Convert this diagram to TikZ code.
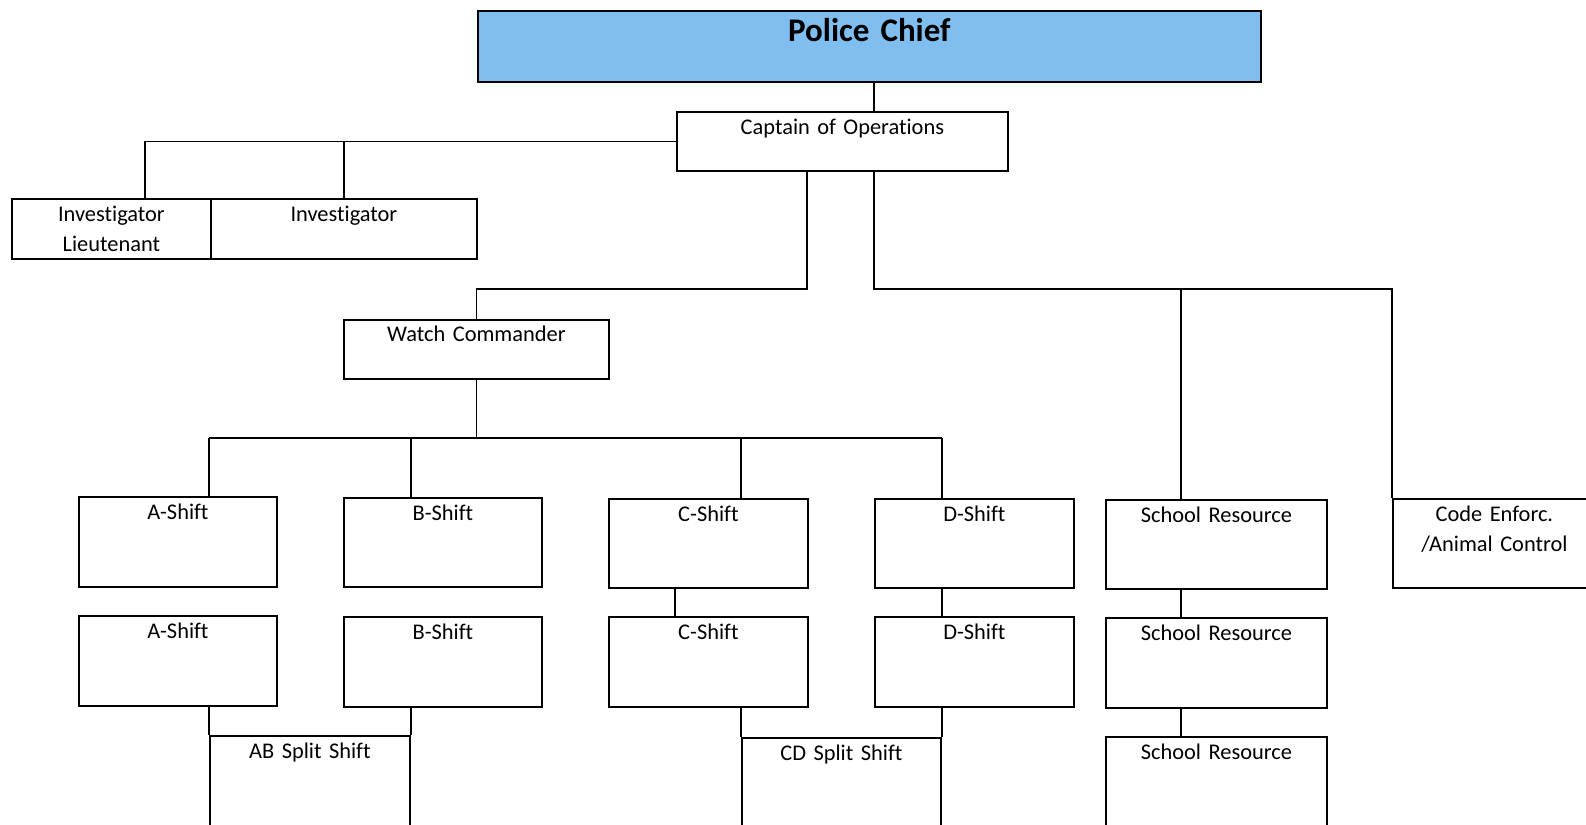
\documentclass[tikz,border=0pt]{standalone}
\usepackage{fontspec}
\setmainfont{Carlito}[Ligatures=NoCommon]
\definecolor{chiefblue}{RGB}{127,190,238}
\tikzset{
  box/.style={draw, line width=1.8pt, inner sep=0pt, anchor=north west, align=center,
    font=\fontsize{22.4}{30}\selectfont, text height=23pt},
  conn/.style={draw, line width=1.8pt},
}
\begin{document}
\begin{tikzpicture}[x=1pt, y=-1pt]
\clip (0,0) rectangle (1586,824);
% boxes
\node[box, fill=chiefblue, text width=783pt, text height=31pt, text depth=40pt,
  font=\fontsize{33}{40}\selectfont\bfseries] (chief) at (477,10) {Police Chief};
\node[box, text width=331pt, text depth=36pt] (captain) at (676,111) {Captain of Operations};
\node[box, text width=199pt, text depth=37pt] (invlt) at (11,198) {Investigator\\Lieutenant};
\node[box, text width=266pt, text depth=37pt] (inv) at (210,198) {Investigator};
\node[box, text width=265pt, text depth=37pt, text height=22pt] (wc) at (343,319) {Watch Commander};
% row 1
\node[box, text width=198pt, text depth=67pt] (a1) at (78,496) {A-Shift};
\node[box, text width=198pt, text depth=66pt] (b1) at (343,497) {B-Shift};
\node[box, text width=199pt, text depth=66pt] (c1) at (608,498) {C-Shift};
\node[box, text width=199pt, text depth=66pt] (d1) at (874,498) {D-Shift};
\node[box, text width=221pt, text depth=66pt] (sr1) at (1105,499) {School Resource};
\node[box, text width=203pt, text depth=66pt] (ce) at (1392,498) {Code Enforc.\\/Animal Control};
% row 2
\node[box, text width=198pt, text depth=67pt] (a2) at (78,615) {A-Shift};
\node[box, text width=198pt, text depth=67pt] (b2) at (343,616) {B-Shift};
\node[box, text width=199pt, text depth=67pt] (c2) at (608,616) {C-Shift};
\node[box, text width=199pt, text depth=67pt] (d2) at (874,616) {D-Shift};
\node[box, text width=221pt, text depth=67pt] (sr2) at (1105,617) {School Resource};
% row 3
\node[box, text width=200pt, text depth=102pt] (ab) at (209,735) {AB Split Shift};
\node[box, text width=199pt, text depth=102pt] (cd) at (741,737) {CD Split Shift};
\node[box, text width=221pt, text depth=102pt] (sr3) at (1105,736) {School Resource};
% helper coordinates
\coordinate (k1) at (874,0);
\coordinate (k2) at (807,0);
\coordinate (k3) at (1181,0);
\coordinate (klt) at (145,0);
\coordinate (kc) at (675,0);
\coordinate (yb) at (0,289);
\coordinate (yc) at (0,438);
% connectors
\draw[conn] (chief.south -| k1) -- (captain.north -| k1);
\draw[conn] (captain.west) -| (invlt.north -| klt);
\draw[conn] (captain.west -| inv.north) -- (inv.north);
\draw[conn] (captain.south -| k2) -- (k2 |- yb) -| (wc.north);
\draw[conn] (captain.south -| k1) -- (k1 |- yb) -| (ce.north west);
\draw[conn] (k3 |- yb) -- (sr1.north -| k3);
\draw[conn] (wc.south) -- (wc.south |- yc);
\draw[conn] (ab.north west |- yc) -- (cd.north east |- yc);
\draw[conn] (ab.north west |- yc) -- (a1.north -| ab.north west);
\draw[conn] (ab.north east |- yc) -- (b1.north -| ab.north east);
\draw[conn] (cd.north west |- yc) -- (c1.north -| cd.north west);
\draw[conn] (cd.north east |- yc) -- (d1.north -| cd.north east);
\draw[conn] (c1.south -| kc) -- (c2.north -| kc);
\draw[conn] (d1.south -| cd.north east) -- (d2.north -| cd.north east);
\draw[conn] (sr1.south -| k3) -- (sr2.north -| k3);
\draw[conn] (sr2.south -| k3) -- (sr3.north -| k3);
\draw[conn] (a2.south -| ab.north west) -- (ab.north west);
\draw[conn] (b2.south -| ab.north east) -- (ab.north east);
\draw[conn] (c2.south -| cd.north west) -- (cd.north west);
\draw[conn] (d2.south -| cd.north east) -- (cd.north east);
\end{tikzpicture}
\end{document}
